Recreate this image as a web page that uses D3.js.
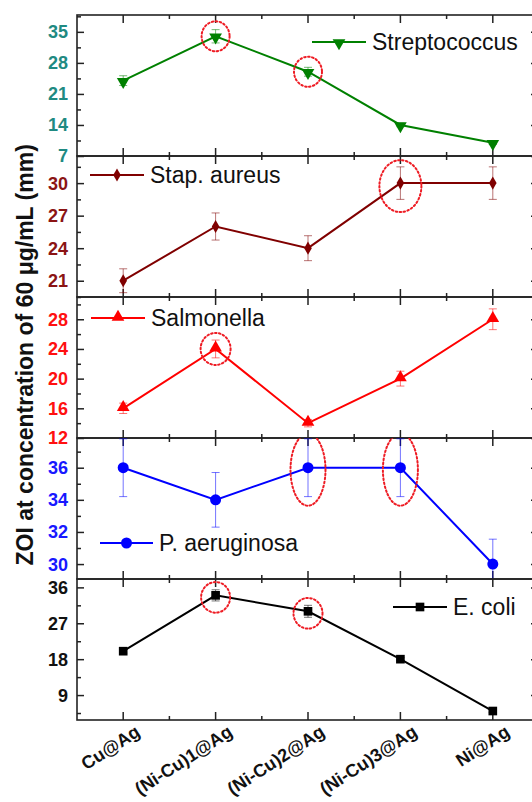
<!DOCTYPE html>
<html>
<head>
<meta charset="utf-8">
<script src="https://cdn.jsdelivr.net/npm/d3@7.9.0/dist/d3.min.js"></script>
<style>
  body { margin: 0; background: #fff; }
  svg { display: block; font-family: "Liberation Sans", Arial, sans-serif; }
</style>
</head>
<body>
<div id="chart"></div>
<script>
// categories along x
const categories = ["Cu@Ag", "(Ni-Cu)1@Ag", "(Ni-Cu)2@Ag", "(Ni-Cu)3@Ag", "Ni@Ag"];

// ZOI values (mm) and error bars
const streptococcus = [24, 34, 26, 14, 10];
const streptococcusErr = [1.1, 1.5, 1.0, 0.4, 0.4];
const stapAureus = [21, 26, 24, 30, 30];
const stapAureusErr = [1.1, 1.25, 1.15, 1.5, 1.5];
const salmonella = [16, 24, 14, 20, 28];
const salmonellaErr = [0.7, 1.2, 0.5, 1.0, 1.4];
const pAeruginosa = [36, 34, 36, 36, 30];
const pAeruginosaErr = [1.8, 1.7, 1.8, 1.8, 1.55];
const eColi = [20, 34, 30, 18, 5];
const eColiErr = [0.5, 1.4, 1.5, 0.4, 0.4];

// y tick labels and axis ranges per panel
const streptococcusTicks = [7, 14, 21, 28, 35];
const stapAureusTicks = [21, 24, 27, 30];
const salmonellaTicks = [12, 16, 20, 24, 28];
const pAeruginosaTicks = [30, 32, 34, 36];
const eColiTicks = [9, 18, 27, 36];
const streptococcusRange = [7, 38.8];
const stapAureusRange = [19.5, 32.5];
const salmonellaRange = [12, 31];
const pAeruginosaRange = [29.07, 37.85];
const eColiRange = [2.75, 38.1];

// points circled in red (category indices)
const streptococcusMarked = [1, 2];
const stapAureusMarked = [3];
const salmonellaMarked = [1];
const pAeruginosaMarked = [2, 3];
const eColiMarked = [1, 2];

const width = 532, height = 802;
const margin = { left: 77, right: 539, top: 15 };
const panelH = 141;

const panels = [
  { name: "Streptococcus", values: streptococcus, err: streptococcusErr, ticks: streptococcusTicks,
    domain: streptococcusRange, marked: streptococcusMarked, color: "#008000", tickColor: "#1f8a82",
    symbol: "down", legend: { x1: 312, x2: 366, y: 42 }, ell: { rx: 14, ry: 15, dy: 0 } },
  { name: "Stap. aureus", values: stapAureus, err: stapAureusErr, ticks: stapAureusTicks,
    domain: stapAureusRange, marked: stapAureusMarked, color: "#800000", tickColor: "#8b1414",
    symbol: "diamond", legend: { x1: 90, x2: 144, y: 175 }, ell: { rx: 21, ry: 26, dy: 3 } },
  { name: "Salmonella", values: salmonella, err: salmonellaErr, ticks: salmonellaTicks,
    domain: salmonellaRange, marked: salmonellaMarked, color: "#ff0000", tickColor: "#ff1010",
    symbol: "up", legend: { x1: 91, x2: 145, y: 318 }, ell: { rx: 15, ry: 16, dy: 0 } },
  { name: "P. aeruginosa", values: pAeruginosa, err: pAeruginosaErr, ticks: pAeruginosaTicks,
    domain: pAeruginosaRange, marked: pAeruginosaMarked, color: "#0000ff", tickColor: "#1818ff",
    symbol: "circle", legend: { x1: 100, x2: 153, y: 543 }, ell: { rx: 17.5, ry: 36, dy: 2 } },
  { name: "E. coli", values: eColi, err: eColiErr, ticks: eColiTicks,
    domain: eColiRange, marked: eColiMarked, color: "#000000", tickColor: "#111111",
    symbol: "square", legend: { x1: 393, x2: 447, y: 607 }, ell: { rx: 14.5, ry: 15.3, dy: 2 } },
];

const svg = d3.select("#chart").append("svg")
  .attr("width", width).attr("height", height);

const x = d3.scalePoint().domain(categories).range([margin.left, margin.right]).padding(0.5);
const step = x.step();

function symbolPath(type) {
  const s = {
    down: d3.symbol(d3.symbolTriangle, 70),
    up: d3.symbol(d3.symbolTriangle, 70),
    diamond: d3.symbol(d3.symbolDiamond, 50),
    circle: d3.symbol(d3.symbolCircle, 95),
    square: d3.symbol(d3.symbolSquare, 75),
  }[type];
  return s();
}
function symbolTransform(type, px, py) {
  return type === "down" ? `translate(${px},${py + 1}) rotate(180)`
       : type === "up" ? `translate(${px},${py - 1})`
       : `translate(${px},${py})`;
}

panels.forEach((p, i) => {
  const top = margin.top + i * panelH;
  const bottom = top + panelH;
  const y = d3.scaleLinear().domain(p.domain).range([bottom, top]);
  const g = svg.append("g");

  // minor y ticks between majors
  const tStep = p.ticks[1] - p.ticks[0];
  const minor = [];
  for (let v = p.ticks[0] - tStep / 2; v <= p.domain[1]; v += tStep / 2) {
    if (v >= p.domain[0] && v <= p.domain[1] && !p.ticks.includes(v)) minor.push(v);
  }

  // left axis (inward ticks)
  const left = g.append("g").attr("transform", `translate(${margin.left},0)`)
    .call(d3.axisRight(y).tickValues(p.ticks).tickSize(7).tickFormat(""));
  left.select(".domain").remove();
  left.selectAll("line").attr("stroke", "#222").attr("stroke-width", 1.5);
  g.append("g").attr("transform", `translate(${margin.left},0)`)
    .call(d3.axisRight(y).tickValues(minor).tickSize(4).tickFormat(""))
    .call(a => a.select(".domain").remove())
    .selectAll("line").attr("stroke", "#222").attr("stroke-width", 1.5);

  // right axis ticks (mostly off canvas)
  g.append("g").attr("transform", `translate(${margin.right},0)`)
    .call(d3.axisLeft(y).tickValues(p.ticks).tickSize(8).tickFormat(""))
    .call(a => a.select(".domain").remove())
    .selectAll("line").attr("stroke", "#222").attr("stroke-width", 1.5);

  // tick labels
  g.selectAll(".ylab").data(p.ticks).join("text")
    .attr("x", margin.left - 9).attr("y", d => y(d))
    .attr("dy", "0.36em").attr("text-anchor", "end")
    .attr("font-weight", "bold").attr("font-size", 18)
    .attr("fill", p.tickColor).text(d => d);

  // top and bottom x ticks, inward
  const minorX = categories.slice(0, -1).map(c => x(c) + step / 2);
  [top, bottom].forEach((yy, k) => {
    const dir = k === 0 ? 1 : -1;
    g.selectAll(null).data(categories).join("line")
      .attr("x1", d => x(d)).attr("x2", d => x(d))
      .attr("y1", yy).attr("y2", yy + dir * 8)
      .attr("stroke", "#222").attr("stroke-width", 1.5);
    g.selectAll(null).data(minorX).join("line")
      .attr("x1", d => d).attr("x2", d => d)
      .attr("y1", yy).attr("y2", yy + dir * 4)
      .attr("stroke", "#222").attr("stroke-width", 1.5);
  });

  // frame
  g.append("rect").attr("x", margin.left).attr("y", top)
    .attr("width", margin.right - margin.left).attr("height", panelH)
    .attr("fill", "none").attr("stroke", "#222").attr("stroke-width", 1.6);

  const clip = `clip${i}`;
  svg.append("clipPath").attr("id", clip).append("rect")
    .attr("x", margin.left).attr("y", top).attr("width", margin.right - margin.left).attr("height", panelH);
  const plot = g.append("g").attr("clip-path", `url(#${clip})`);

  // error bars
  const eb = plot.selectAll(".eb").data(p.values).join("g")
    .attr("stroke", p.color).attr("stroke-opacity", 0.55).attr("stroke-width", 1);
  eb.append("line")
    .attr("x1", (d, j) => x(categories[j])).attr("x2", (d, j) => x(categories[j]))
    .attr("y1", (d, j) => y(d - p.err[j])).attr("y2", (d, j) => y(d + p.err[j]));
  [-1, 1].forEach(sgn => {
    eb.append("line")
      .attr("x1", (d, j) => x(categories[j]) - 4).attr("x2", (d, j) => x(categories[j]) + 4)
      .attr("y1", (d, j) => y(d + sgn * p.err[j])).attr("y2", (d, j) => y(d + sgn * p.err[j]));
  });

  // line
  const line = d3.line().x((d, j) => x(categories[j])).y(d => y(d));
  plot.append("path").datum(p.values).attr("d", line)
    .attr("fill", "none").attr("stroke", p.color).attr("stroke-width", 2);

  // markers
  plot.selectAll(".m").data(p.values).join("path")
    .attr("d", symbolPath(p.symbol))
    .attr("transform", (d, j) => symbolTransform(p.symbol, x(categories[j]), y(d)))
    .attr("fill", p.color);

  // red dotted highlight ellipses
  plot.selectAll(".ell").data(p.marked).join("ellipse")
    .attr("cx", j => x(categories[j])).attr("cy", j => y(p.values[j]) + p.ell.dy)
    .attr("rx", p.ell.rx).attr("ry", p.ell.ry)
    .attr("fill", "none").attr("stroke", "#ee1c24").attr("stroke-width", 2)
    .attr("stroke-dasharray", "1.6 2.4").attr("stroke-linecap", "round");

  // legend
  const lg = g.append("g");
  lg.append("line").attr("x1", p.legend.x1).attr("x2", p.legend.x2)
    .attr("y1", p.legend.y).attr("y2", p.legend.y)
    .attr("stroke", p.color).attr("stroke-width", 2);
  lg.append("path").attr("d", symbolPath(p.symbol))
    .attr("transform", symbolTransform(p.symbol, (p.legend.x1 + p.legend.x2) / 2, p.legend.y))
    .attr("fill", p.color);
  lg.append("text").attr("x", p.legend.x2 + 6).attr("y", p.legend.y)
    .attr("dy", "0.36em").attr("font-size", 23).attr("fill", "#111").text(p.name);

  // x category labels under the last panel
  if (i === panels.length - 1) {
    g.selectAll(".xlab").data(categories).join("text")
      .attr("transform", d => `translate(${x(d) + 11},${bottom + 4}) rotate(-33)`)
      .attr("text-anchor", "end").attr("dy", "0.72em")
      .attr("font-weight", "bold").attr("font-size", 18)
      .attr("fill", "#111").text(d => d);
  }
});

// y axis title
svg.append("text")
  .attr("transform", `translate(25,${margin.top + 2.41 * panelH}) rotate(-90)`)
  .attr("text-anchor", "middle").attr("dy", "0.35em")
  .attr("font-weight", "bold").attr("font-size", 23).attr("fill", "#111")
  .text("ZOI at concentration of 60 μg/mL (mm)");
</script>
</body>
</html>
